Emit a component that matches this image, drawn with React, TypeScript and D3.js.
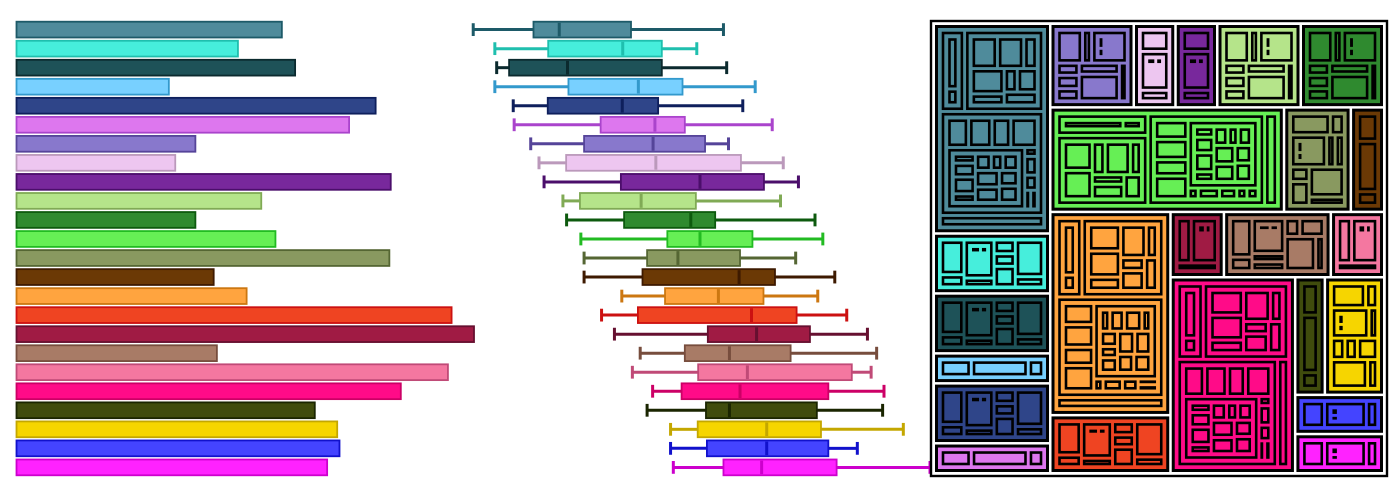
import React from 'react';
import * as d3 from 'd3';

const categories = [
  'Teal', 'Turquoise', 'Dark Teal', 'Sky', 'Navy', 'Orchid', 'Lavender', 'Thistle',
  'Violet', 'Light Green', 'Green', 'Lime', 'Olive', 'Brown', 'Orange', 'Vermilion',
  'Crimson', 'Tan', 'Pink', 'Deep Pink', 'Dark Olive', 'Yellow', 'Blue', 'Magenta',
];

const fillColors = [
  '#4f8b9b', '#46eedc', '#1e5258', '#78d0ff', '#2f4589', '#dd77ee', '#8878cc', '#edc6f0',
  '#78289c', '#b5e48a', '#2f8a2f', '#66ef55', '#899960', '#6b3905', '#ffa43f', '#ef4422',
  '#a01b44', '#a87b66', '#f477a0', '#ff0b88', '#404c0d', '#f6d500', '#4444ff', '#ff22ff',
];

const strokeColors = [
  '#1d5a68', '#1fbfae', '#0b2a2e', '#3399cc', '#0e1f5c', '#aa44cc', '#554499', '#bb99bb',
  '#4b0e6b', '#80aa55', '#0d5a0e', '#22bb22', '#556633', '#3e1a00', '#cc7711', '#cc1111',
  '#661030', '#774d3d', '#c04a77', '#cc0066', '#1a2500', '#c4a700', '#1111cc', '#cc00cc',
];

const barValues = [
  58.0, 48.4, 60.9, 33.3, 78.5, 72.7, 39.1, 34.7, 81.8, 53.5, 39.1, 56.6,
  81.5, 43.1, 50.3, 95.1, 100, 43.8, 94.3, 84.0, 65.2, 70.1, 70.6, 67.9,
];

const boxMin = [0.7, 5.4, 5.8, 5.4, 9.4, 9.6, 13.2, 15.0, 16.1, 20.2, 21.0, 24.1, 24.8, 24.8, 33.0, 28.6, 31.4, 37.0, 35.3, 39.7, 38.5, 43.6, 43.6, 44.2];
const boxQ1 = [13.8, 17.0, 8.5, 21.4, 16.9, 28.4, 24.8, 20.9, 32.8, 23.9, 33.5, 42.9, 38.5, 37.5, 42.4, 36.5, 51.7, 46.7, 49.6, 46.0, 51.3, 49.5, 51.5, 55.1];
const boxMedian = [19.4, 33.2, 21.2, 36.6, 33.1, 40.2, 39.8, 40.4, 50.0, 37.2, 48.0, 50.0, 45.2, 58.5, 54.0, 61.2, 62.3, 56.4, 60.3, 58.7, 56.4, 64.5, 64.5, 63.4];
const boxQ3 = [35.0, 41.7, 41.7, 46.2, 40.9, 46.7, 51.1, 58.9, 63.9, 49.1, 53.3, 61.4, 58.7, 66.3, 63.8, 71.0, 73.9, 69.7, 83.0, 77.9, 75.4, 76.3, 77.9, 79.7];
const boxMax = [55.1, 49.3, 55.8, 62.0, 59.3, 65.7, 56.2, 68.1, 71.4, 67.5, 75.0, 76.7, 70.8, 79.3, 75.6, 81.9, 86.4, 88.4, 87.2, 90.0, 89.7, 94.2, 84.2, 100];

// size class of each category's block in the nested treemap
const sizeClass = ['L', 'M', 'M', 'S', 'M', 'S', 'M', 'S', 'S', 'M', 'M', 'L', 'M', 'S', 'L', 'M', 'S', 'M', 'S', 'L', 'S', 'M', 'S', 'S'];

type TNode = number | { own: number; kids: TNode[] };

const smallTemplate: TNode[] = [0.3, { own: 0.41, kids: [0.08, 0.06] }, 0.15];
const mediumTemplate: TNode[] = [0.34, 0.12, { own: 0.35, kids: [0.07, 0.05] }, 0.11, 0.12, 0.11, 0.18, 0.43, 0.12];
const largeLeftColumn: TNode[] = [0.52, 0.16];
const largeUpperBlock: TNode[] = [0.41, 0.41, 0.21, 0.41, 0.18, 0.15, 0.23, 0.21];
const largeCenterBlock: TNode[] = [0.138, 0.209, 0.254, 0.131, 0.179, 0.131, 0.172, 0.271, 0.254, 0.202, 0.213];
const largeLowerBlock: TNode[] = [0.29, 0.31, 0.25, 0.35, { own: 0, kids: largeCenterBlock }, 0.05, 0.105, 0.085, 0.05, 0.055];
const largeTemplate: TNode[] = [
  { own: 0, kids: largeLeftColumn },
  { own: 0, kids: largeUpperBlock },
  { own: 0, kids: largeLowerBlock },
  0.41,
];

const templates: Record<string, TNode[]> = { S: smallTemplate, M: mediumTemplate, L: largeTemplate };

function build(t: TNode): any {
  if (typeof t === 'number') return { v: t };
  return { v: t.own, children: t.kids.map(build) };
}

const W = 1400;
const H = 481;

export default function App() {
  const n = categories.length;
  const y = d3.scaleBand<number>()
    .domain(d3.range(n))
    .range([20, 477])
    .paddingInner(0.17)
    .paddingOuter(0.09);
  const bw = y.bandwidth();

  const xBar = d3.scaleLinear().domain([0, 100]).range([16.5, 474]);
  const xBox = d3.scaleLinear().domain([0, 100]).range([470, 930]);

  const rootData = {
    v: 0,
    children: categories.map((name, i) => ({
      name,
      idx: i,
      v: 0,
      children: templates[sizeClass[i]].map(build),
    })),
  };
  const root = d3.hierarchy<any>(rootData).sum((d: any) => d.v || 0);
  const tm = d3.treemap<any>()
    .tile(d3.treemapSquarify)
    .size([458, 457])
    .paddingOuter(6.5)
    .paddingInner(5.5);
  tm(root);
  const tx = 930;
  const ty = 20;
  const nodes = root.descendants() as any[];

  const groupIdx = (nd: any) => {
    let a = nd;
    while (a.depth > 1) a = a.parent;
    return a.data.idx;
  };

  return (
    <svg width={W} height={H} style={{ position: 'absolute', left: 0, top: 0, background: '#fff' }}>
      <g className="bars">
        {barValues.map((v, i) => (
          <rect
            key={i}
            x={xBar(0)}
            y={y(i)!}
            width={xBar(v) - xBar(0)}
            height={bw}
            fill={fillColors[i]}
            stroke={strokeColors[i]}
            strokeWidth={1.8}
          />
        ))}
      </g>
      <g className="boxes">
        {categories.map((c, i) => {
          const yc = y(i)! + bw / 2;
          const y0 = y(i)!;
          return (
            <g key={c}>
              <line x1={xBox(boxMin[i])} x2={xBox(boxQ1[i])} y1={yc} y2={yc} stroke={strokeColors[i]} strokeWidth={3} />
              <line x1={xBox(boxQ3[i])} x2={xBox(boxMax[i])} y1={yc} y2={yc} stroke={strokeColors[i]} strokeWidth={3} />
              <rect
                x={xBox(boxQ1[i])}
                y={y0}
                width={xBox(boxQ3[i]) - xBox(boxQ1[i])}
                height={bw}
                fill={fillColors[i]}
                stroke={strokeColors[i]}
                strokeWidth={1.8}
              />
              <line x1={xBox(boxMedian[i])} x2={xBox(boxMedian[i])} y1={y0 + 1} y2={y0 + bw - 1} stroke={strokeColors[i]} strokeWidth={3} />
              <line x1={xBox(boxMin[i])} x2={xBox(boxMin[i])} y1={y0 + 1.5} y2={y0 + bw - 1.5} stroke={strokeColors[i]} strokeWidth={3} />
              <line x1={xBox(boxMax[i])} x2={xBox(boxMax[i])} y1={y0 + 1.5} y2={y0 + bw - 1.5} stroke={strokeColors[i]} strokeWidth={3} />
            </g>
          );
        })}
      </g>
      <g className="treemap" transform={`translate(${tx},${ty})`}>
        {nodes.map((nd, k) => {
          if (nd.depth === 0) {
            return (
              <rect key={k} x={nd.x0 + 1} y={nd.y0 + 1} width={nd.x1 - nd.x0 - 2} height={nd.y1 - nd.y0 - 2}
                fill="#fff" stroke="#000" strokeWidth={2.4} />
            );
          }
          const gi = groupIdx(nd);
          return (
            <rect
              key={k}
              x={nd.x0}
              y={nd.y0}
              width={Math.max(0, nd.x1 - nd.x0)}
              height={Math.max(0, nd.y1 - nd.y0)}
              fill={fillColors[gi]}
              stroke="#000"
              strokeWidth={nd.depth === 1 ? 3 : 2.6}
            />
          );
        })}
      </g>
    </svg>
  );
}
